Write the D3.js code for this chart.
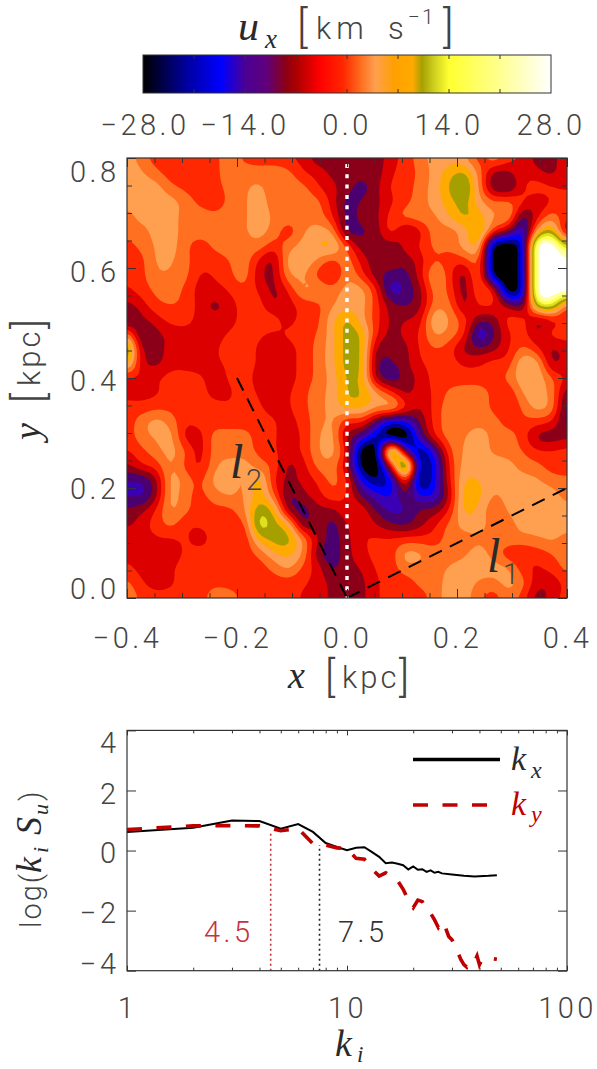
<!DOCTYPE html>
<html><head><meta charset="utf-8">
<script src="https://cdn.jsdelivr.net/npm/d3@7"></script>
<style>
html,body{margin:0;padding:0;background:#fff}
svg{display:block}
text{font-family:Roboto,"Open Sans",sans-serif;font-weight:300;fill:#444}
.m{font-family:"Liberation Serif",serif;font-style:italic;font-weight:400;fill:#2a2a2a}
</style></head><body>
<svg id="c" width="597" height="1069"></svg>
<script>
// velocity field u_x (km/s), rows top (y=0.8) to bottom (y=0.0), columns x=-0.4..0.4
const uxGrid = [
[5,2,-2,-2,-2,-2,-1,2,-1,-2,-2,-3,-5,-9,-9,-9,-9,-9,-5,-2,2,5,5,4,-2,3,-2,-4,-9,-8,-5],
[5,4,1,-2,-2,-2,-1,2,2,2,2,1,-3,-5,-8,-9,-9,-9,-4,-2,1,5,9,11,2,-8,-8,-4,-6,-8,-4],
[5,5,5,1,-1,-2,-1,1,3,4,2,2,1,-3,-6,-9,-12,-8,-3,-2,2,5,11,15,3,-10,-11,-4,-2,-3,-4],
[5,5,5,5,2,-1,-2,1,3,5,2,2,2,1,-5,-12,-10,-8,-4,-1,2,5,9,12,5,1,1,-3,-6,-3,-2],
[2,5,5,5,2,2,1,2,3,5,3,2,2,2,-3,-12,-9,-8,-2,1,2,3,7,11,9,3,4,-12,-4,2,-3],
[1,2,5,5,2,2,2,2,3,5,2,-2,3,5,3,-12,-11,-9,-2,-8,-4,2,2,5,11,-2,-9,-18,6,12,-8],
[-1,1,4,5,1,-2,1,2,2,2,-2,2,5,7,8,-1,-9,-9,-9,-6,-3,1,1,5,7,-28,-28,-20,28,28,14],
[-3,-1,4,4,1,-2,-2,0,2,-4,-8,5,6,3,-1,2,-5,-9,-8,-9,-5,0,-2,-2,1,-28,-28,-20,28,28,26],
[-3,-1,3,3,1,-4,-3,-1,2,-6,-8,3,4,-1,-5,3,-2,-9,-12,-12,-5,4,-2,-9,1,-26,-28,-20,28,28,28],
[-4,-2,1,2,-1,-5,-5,-3,-1,-4,-8,-3,4,4,2,5,5,-3,-16,-13,-8,2,-1,-9,0,-4,-28,-20,28,28,28],
[-8,-5,-1,0,-1,-5,-8,-5,-2,-2,-7,-5,-2,-1,3,5,5,-2,-9,-11,-8,2,1,-8,-3,-3,-9,-12,16,18,1],
[-12,-8,-5,-2,-2,-5,-6,-5,-2,-2,-2,-5,-2,-1,6,11,5,-2,-8,-7,-5,7,3,-2,-9,-9,-2,-2,-8,-4,-4],
[2,-11,-8,-6,-5,-5,-5,-3,-2,-3,-4,-3,-1,0,6,12,10,-3,-8,-6,-3,4,2,-3,-17,-11,-4,-2,-7,-2,-2],
[16,-8,-8,-6,-5,-5,-4,-2,-2,-4,-5,-5,-2,1,6,12,11,-8,-9,-8,-3,0,-2,-8,-10,-8,-4,1,-3,-8,-5],
[10,-6,-8,-5,-5,-5,-4,-3,-2,-4,-5,-5,-2,1,6,12,11,-10,-11,-8,-4,-2,-2,-4,-4,-2,-2,7,5,-8,-5],
[-4,-4,-4,-2,-2,-3,-5,-3,-2,-5,-5,-5,-2,1,5,11,10,-8,-13,-9,-6,-2,-2,-2,-2,-2,1,6,6,0,-4],
[-5,-5,-4,-2,-2,-2,-5,-4,-2,-4,-5,-4,-1,2,5,11,11,4,-2,-8,-5,-3,1,2,2,-1,-3,4,5,2,-10],
[-2,-2,-1,-1,-2,-2,-2,-3,-2,-3,-5,-4,-1,2,5,8,8,4,5,-3,-7,-2,2,2,2,-1,-4,1,5,2,-13],
[-2,2,5,2,-3,-2,-2,-2,-2,-2,-3,-5,-2,2,4,-3,-3,-12,-20,-18,-10,-2,2,2,2,2,-2,-1,-2,-4,-12],
[-2,2,4,5,-5,-5,2,2,2,-2,-3,-5,-3,3,5,-8,-14,-22,-28,-28,-14,-4,2,3,6,2,2,-2,-8,-9,-8],
[-4,-1,2,5,0,-5,2,2,2,-1,-3,-5,-3,3,5,-5,-28,-28,18,-12,-24,-15,-1,4,5,3,2,0,-3,-3,-2],
[-8,-4,-2,4,-1,-4,3,5,5,2,-1,-8,-5,1,2,-7,-26,-28,-5,20,-24,-19,-3,5,5,5,5,2,1,-2,-2],
[-14,-14,-8,5,2,-1,5,5,3,9,-3,-8,-6,-3,1,-3,-18,-24,-20,-2,-26,-18,-4,7,7,5,5,5,4,2,1],
[-14,-15,-8,5,1,-1,2,4,3,9,1,-11,-8,-5,-1,-4,-11,-16,-18,-10,-18,-17,-6,9,8,3,5,5,5,5,2],
[-10,-8,-3,4,1,-2,-1,-1,3,13,9,-8,-12,-8,-8,-4,-5,-11,-15,-14,-10,-9,-3,8,6,1,4,5,5,5,5],
[-8,-5,-2,1,-3,-3,-2,-1,-1,16,12,7,-10,-8,-12,-7,-4,-7,-10,-11,-8,-4,1,5,5,2,2,5,5,5,5],
[-4,-5,-4,-4,-3,-5,-2,-2,-3,8,12,12,3,-7,-12,-8,-4,-3,-3,-2,-2,-2,2,2,3,2,2,2,3,4,2],
[-5,-6,-5,-5,-3,-2,-2,-2,-2,1,6,8,3,-9,-13,-8,-5,-2,-2,5,4,2,2,3,5,2,-2,-3,-2,0,2],
[-2,-5,-5,-4,-2,-2,-2,-2,-2,-2,1,4,-1,-5,-11,-8,-7,-3,-2,2,2,2,4,5,5,5,4,-2,-4,-2,1],
[1,-3,-5,-4,-2,-2,-1,-2,-2,-2,-2,-2,-3,-5,-8,-8,-8,-4,-2,-2,1,2,5,5,3,2,5,1,-6,-6,-2],
[3,-1,-2,-2,-2,-2,3,3,-2,-2,-2,-2,-4,-5,-8,-8,-8,-4,-2,-2,-2,2,5,5,1,-2,2,-2,-9,-5,-2]
];
const bandLevels = [-24.5,-21,-17.5,-14,-10.5,-7,-3.5,0,3.5,7,10.5,14,17.5,21,24.5];
const bandColors = ["#00009a","#0000ff","#3c00b4","#4b0070","#8b0018","#dd0000","#ff2800","#ff7020","#ffa050","#ffaa00","#a5a000","#e0e020","#ffff50","#ffffa0","#ffffff"];
const barStops = [-28,-22,-17.3,-14,-11,-8.5,-7,-3.7,-0.5,2,3.9,6.5,9,10.3,12,14,21,28];
const barColors = ["#000000","#0000a0","#0000ff","#4b0096","#60007a","#8b0018","#aa0000","#ff0000","#ff2800","#ff7020","#ffa050","#ffa000","#ffaa00","#a5a000","#d0d020","#ffff30","#ffff90","#ffffff"];
const barTicks = [-28,-14,0,14,28];
const barMinorTicks = [-21,-14,-7,0,7,14,21];
const mapXTicks = [-0.4,-0.2,0,0.2,0.4];
const mapYTicks = [0,0.2,0.4,0.6,0.8];
const mapMinor = [-0.35,-0.3,-0.25,-0.15,-0.1,-0.05,0.05,0.1,0.15,0.25,0.3,0.35];
const mapMinorY = [0.05,0.1,0.15,0.25,0.3,0.35,0.45,0.5,0.55,0.65,0.7,0.75];
const kX = [1,2,3,4,5,6,7,8,9,10,11,12,13,14,15,16,17,18,19,20,21,22,23,24,25,26,27,30,34,38,44,48];
const specX = [0.62,0.76,1.00,0.98,0.73,0.88,0.62,0.25,0.12,0.01,0.09,0.11,-0.05,-0.21,-0.42,-0.40,-0.44,-0.49,-0.63,-0.53,-0.64,-0.62,-0.71,-0.66,-0.74,-0.71,-0.76,-0.80,-0.84,-0.86,-0.84,-0.82];
const kY = [1,2,3,4,5,6,7,8,9,10,11,12,13,14,15,16,17,18,19,20,21,22,23,24,25,26,27,28,29,30,31,32,33,34,35,36,38,39,40,41,44,48];
const specY = [0.70,0.82,0.83,0.82,0.66,0.73,0.23,0.18,0.09,0.07,-0.26,-0.29,-0.62,-0.85,-0.74,-0.87,-1.01,-1.29,-1.65,-1.90,-1.65,-1.70,-1.98,-2.09,-2.31,-2.56,-2.37,-2.56,-2.86,-2.97,-3.2,-3.42,-3.64,-3.80,-3.88,-3.69,-3.69,-3.51,-3.80,-3.64,-3.58,-3.62];
const kMarks = [4.5,7.5];
const specTicks = [-4,-2,0,2,4];
const kMajor = [1,10,100];
const kMinor = [2,3,4,5,6,7,8,9,20,30,40,50,60,70,80,90];

const fmt1 = d => d3.format(".1f")(d).replace("-", "\u2212");
const svg = d3.select("#c");
const L=127,R=567,T=158,B=598;
const axisCol="#333";
const tickFont = {size:"29px",ls:"3.5px"};
function tick(sel){ return sel.attr("font-size",tickFont.size).attr("letter-spacing",tickFont.ls); }
function label(parent,base,parts){
  const t=parent.append("text");
  if(base) t.attr("transform",base);
  parts.forEach(p=>{
    const s=t.append("tspan").attr("x",p.x).attr("y",p.y).attr("font-size",p.size+"px").text(p.t);
    if(p.m) s.attr("class","m");
    if(p.ls) s.attr("letter-spacing",p.ls+"px");
    if(p.fill) s.style("fill",p.fill);
  });
  return t;
}

// ---------- colour bar
const bx = d3.scaleLinear().domain([-28,28]).range([143,551]);
const bc = d3.scaleLinear().domain(barStops).range(barColors).clamp(true);
const barG = svg.append("g");
barG.selectAll("rect").data(d3.range(143,551)).join("rect")
  .attr("x",d=>d).attr("y",55).attr("width",1.2).attr("height",38)
  .attr("fill",d=>bc(bx.invert(d+0.5)));
barG.append("rect").attr("x",143).attr("y",55).attr("width",408).attr("height",38).attr("fill","none").attr("stroke",axisCol);
barMinorTicks.forEach(v=>{
  barG.append("line").attr("x1",bx(v)).attr("x2",bx(v)).attr("y1",55).attr("y2",59).attr("stroke",axisCol);
  barG.append("line").attr("x1",bx(v)).attr("x2",bx(v)).attr("y1",89).attr("y2",93).attr("stroke",axisCol);
});
barTicks.forEach(v=>{
  tick(svg.append("text")).attr("x",bx(v)+(v===-28?2:0)).attr("y",135).attr("text-anchor","middle").text(fmt1(v));
});
label(svg,null,[
 {t:"u",x:238,y:40,size:42,m:1},
 {t:"x",x:265,y:48,size:27,m:1},
 {t:"[",x:297,y:42,size:44},
 {t:"km",x:316,y:39,size:31,ls:5},
 {t:"s",x:388,y:39,size:31},
 {t:"\u22121",x:408,y:24,size:21,ls:2},
 {t:"]",x:443,y:42,size:44}
]);

// ---------- map
const n = uxGrid.length, m = uxGrid[0].length, f = 4;
function cr(a,b,c,d,t){return 0.5*((2*b)+(-a+c)*t+(2*a-5*b+4*c-d)*t*t+(-a+3*b-3*c+d)*t*t*t);}
const at=(j,i)=>uxGrid[Math.max(0,Math.min(n-1,j))][Math.max(0,Math.min(m-1,i))];
const W=(m-1)*f+1,H=(n-1)*f+1, fine=new Float64Array(W*H);
for(let y=0;y<H;y++)for(let x=0;x<W;x++){
  const i=Math.min(m-2,Math.floor(x/f)), j=Math.min(n-2,Math.floor(y/f)), u=x/f-i, v=y/f-j;
  const row=[-1,0,1,2].map(dj=>cr(at(j+dj,i-1),at(j+dj,i),at(j+dj,i+1),at(j+dj,i+2),u));
  let val=cr(row[0],row[1],row[2],row[3],v);
  const cs=[at(j,i),at(j,i+1),at(j+1,i),at(j+1,i+1)];
  fine[y*W+x]=Math.max(d3.min(cs),Math.min(d3.max(cs),val));
}
if(d3.blur2) d3.blur2({data:fine,width:W,height:H},0.5);
const gx=d3.scaleLinear().domain([0.5,W-0.5]).range([L,R]);
const gy=d3.scaleLinear().domain([0.5,H-0.5]).range([T,B]);
const gp=d3.geoPath(d3.geoTransform({point(a,b){this.stream.point(gx(a),gy(b));}}));
svg.append("clipPath").attr("id","mc").append("rect").attr("x",L).attr("y",T).attr("width",R-L).attr("height",B-T);
const mapG=svg.append("g").attr("clip-path","url(#mc)");
mapG.append("rect").attr("x",L).attr("y",T).attr("width",R-L).attr("height",B-T).attr("fill","#000");
mapG.selectAll("path").data(d3.contours().size([W,H]).thresholds(bandLevels)(Array.from(fine))).join("path")
  .attr("d",gp).attr("fill",d=>bandColors[bandLevels.indexOf(d.value)]);

const x=d3.scaleLinear().domain([-0.4,0.4]).range([L,R]);
const y=d3.scaleLinear().domain([0,0.8]).range([B,T]);
const lineData=[[[-0.2,0.4],[0,0]],[[0,0],[0.4,0.2]]];
const ln=d3.line().x(d=>x(d[0])).y(d=>y(d[1]));
mapG.selectAll(".l").data(lineData).join("path").attr("class","l").attr("d",ln)
  .attr("fill","none").attr("stroke","#000").attr("stroke-width",2).attr("stroke-dasharray","14 9");
mapG.append("line").attr("x1",x(0)).attr("x2",x(0)).attr("y1",T).attr("y2",B)
  .attr("stroke","#fff").attr("stroke-width",3.4).attr("stroke-dasharray","4 6.3").attr("stroke-dashoffset",-6);

function frame(sel,xs,ys,o){
  const add=(gen,tx,ty,noText)=>{
    const g=sel.append("g").attr("transform",`translate(${tx},${ty})`).call(gen);
    g.selectAll(".domain").remove();
    g.selectAll("line").attr("stroke",axisCol);
    if(noText) g.selectAll("text").remove();
    else g.selectAll("text").attr("fill",null).attr("font-family",null).attr("font-size",tickFont.size).attr("letter-spacing",tickFont.ls);
    return g;
  };
  const l=xs.range()[0], r=xs.range()[1], b=ys.range()[0], t=ys.range()[1];
  add(d3.axisBottom(xs).tickValues(o.xMaj).tickSize(-o.xLen).tickPadding(o.xPad).tickFormat(o.xf),0,b);
  add(d3.axisBottom(xs).tickValues(o.xMin).tickSize(-o.xMinLen).tickFormat(""),0,b,true);
  add(d3.axisTop(xs).tickValues(o.xMaj).tickSize(-o.xLen),0,t,true);
  add(d3.axisTop(xs).tickValues(o.xMin).tickSize(-o.xMinLen),0,t,true);
  const gl=add(d3.axisLeft(ys).tickValues(o.yMaj).tickSize(-9).tickFormat(o.yf),l,0);
  gl.selectAll("text").attr("dy",null).attr("x",-7.5).attr("y",d=>o.yBase(d)-ys(d));
  add(d3.axisRight(ys).tickValues(o.yMaj).tickSize(-9),r,0,true);
  if(o.yMin.length){
    add(d3.axisLeft(ys).tickValues(o.yMin).tickSize(-5),l,0,true);
    add(d3.axisRight(ys).tickValues(o.yMin).tickSize(-5),r,0,true);
  }
  sel.append("rect").attr("x",l).attr("y",t).attr("width",r-l).attr("height",b-t).attr("fill","none").attr("stroke",axisCol).attr("stroke-width",1.2);
}
const mapBase=new Map([[0.8,181],[0.6,281],[0.4,390],[0.2,498],[0,598]]);
frame(svg.append("g"),x,y,{xMaj:mapXTicks,xMin:mapMinor,yMaj:mapYTicks,yMin:mapMinorY,xf:fmt1,yf:d3.format(".1f"),xLen:9,xMinLen:5,xPad:29,yBase:d=>mapBase.get(d)});

label(svg,null,[{t:"l",x:230,y:478,size:48,m:1},{t:"2",x:246,y:490,size:29}]);
label(svg,null,[{t:"l",x:487,y:572,size:48,m:1},{t:"1",x:503,y:584,size:29}]);

label(svg,null,[
 {t:"x",x:288,y:688,size:38,m:1},
 {t:"[",x:325,y:691,size:42},
 {t:"kpc",x:342,y:688,size:31,ls:3},
 {t:"]",x:399,y:691,size:42}
]);
label(svg,"translate(40,440) rotate(-90)",[
 {t:"y",x:0,y:0,size:38,m:1},
 {t:"[",x:37,y:3,size:42},
 {t:"kpc",x:54,y:0,size:31,ls:3},
 {t:"]",x:111,y:3,size:42}
]);

// ---------- spectrum
const sx=d3.scaleLog().domain([1,100]).range([L,R]);
const sy=d3.scaleLinear().domain([-4,4]).range([970.7,730.4]);
const sl=d3.line().x(d=>sx(d[0])).y(d=>sy(d[1]));
const red="#c00000";
svg.append("path").attr("d",sl(d3.zip(kX,specX))).attr("fill","none").attr("stroke","#000").attr("stroke-width",2);
svg.append("path").attr("d",sl(d3.zip(kY,specY))).attr("fill","none").attr("stroke",red).attr("stroke-width",3.6).attr("stroke-dasharray","15 14.5").attr("stroke-linejoin","miter");
const markCols=[ "#c8303c","#222" ], markTops=[0.62,0.18];
kMarks.forEach((k,i)=>{
  svg.append("line").attr("x1",sx(k)).attr("x2",sx(k)).attr("y1",sy(-4)).attr("y2",sy(markTops[i]))
   .attr("stroke",markCols[i]).attr("stroke-width",1.6).attr("stroke-dasharray","2 3");
  tick(svg.append("text")).attr("x",i?338:204).attr("y",942).style("fill",i?"#333":"#c8303c").text(d3.format(".1f")(k));
});
const specBase=new Map([[4,752],[2,803],[0,862],[-2,922],[-4,973]]);
frame(svg.append("g"),sx,sy,{xMaj:kMajor,xMin:kMinor,yMaj:specTicks,yMin:[],xf:d3.format("d"),yf:d=>String(d).replace("-","\u2212"),xLen:5,xMinLen:3,xPad:27,yBase:d=>specBase.get(d)});
svg.append("line").attr("x1",413).attr("x2",500).attr("y1",759.5).attr("y2",759.5).attr("stroke","#000").attr("stroke-width",3.4);
svg.append("line").attr("x1",413).attr("x2",500).attr("y1",805).attr("y2",805).attr("stroke",red).attr("stroke-width",3.6).attr("stroke-dasharray","15 14.5");
label(svg,null,[{t:"k",x:511,y:770,size:34,m:1},{t:"x",x:531,y:778,size:24,m:1}]);
label(svg,null,[{t:"k",x:511,y:815,size:34,m:1,fill:red},{t:"y",x:531,y:822,size:24,m:1,fill:red}]);
label(svg,"translate(41,928) rotate(-90)",[
 {t:"log(",x:0,y:0,size:29,ls:2},
 {t:"k",x:55,y:0,size:36,m:1},
 {t:"i",x:75,y:7,size:22,m:1},
 {t:"S",x:93,y:0,size:36,m:1},
 {t:"u",x:113,y:7,size:22,m:1},
 {t:")",x:127,y:0,size:29}
]);
label(svg,null,[{t:"k",x:335,y:1056,size:38,m:1},{t:"i",x:357,y:1062,size:23,m:1}]);
</script>
</body></html>
